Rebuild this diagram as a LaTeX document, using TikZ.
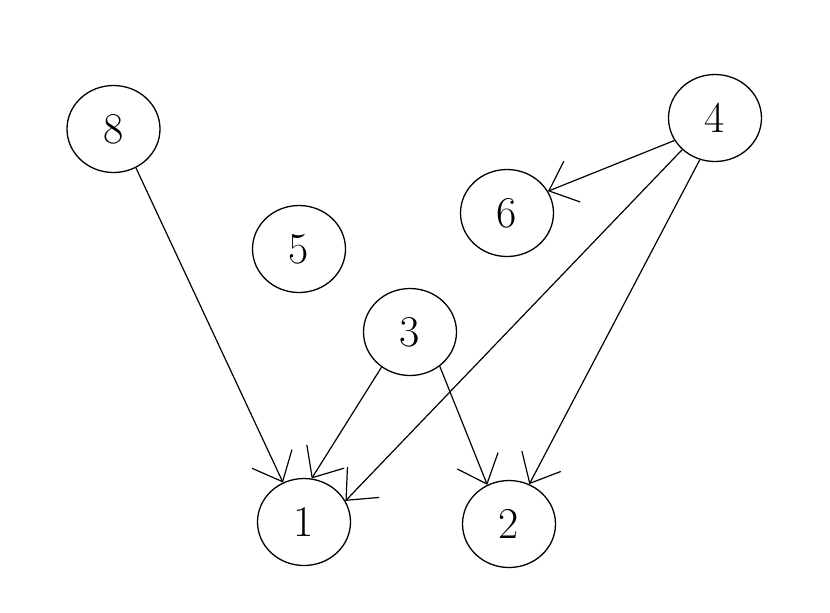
\documentclass[tikz,border=0pt]{standalone}
\usetikzlibrary{arrows.meta,shapes.geometric}
\begin{document}
\begin{tikzpicture}[x=0.5pt,y=-0.5pt,
  vtx/.style={ellipse,draw,line width=0.65pt,minimum width=46.5pt,minimum height=43.5pt,inner sep=0pt,font=\fontsize{22}{26}\selectfont},
  edge/.style={line width=0.6pt,-{Straight Barb[length=12.5pt,width=22pt,line width=0.6pt]}}]
\useasboundingbox (0,0) rectangle (830,612);
\node[vtx] (n8) at (113.5,129) {8};
\node[vtx] (n5) at (299,249) {5};
\node[vtx] (n6) at (507,213) {6};
\node[vtx] (n4) at (715,118) {4};
\node[vtx] (n3) at (410,332) {3};
\node[vtx] (n1) at (304,522) {1};
\node[vtx] (n2) at (509,524) {2};
\draw[edge] (n8.300) -- (n1.118);
\draw[edge] (n3.231) -- (n1.80);
\draw[edge] (n3.311) -- (n2.119);
\draw[edge] (n4.209) -- (n6.28);
\draw[edge] (n4.224) -- (n1.27);
\draw[edge] (n4.250) -- (n2.63);
\end{tikzpicture}
\end{document}
